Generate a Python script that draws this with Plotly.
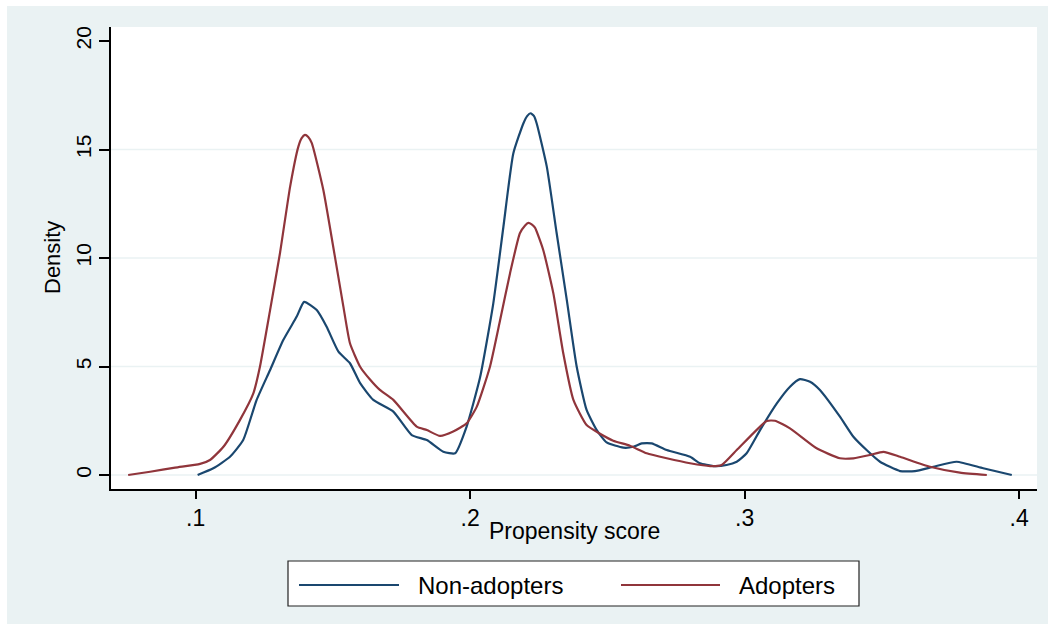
import plotly.graph_objects as go

# ---- data ----
nonadopt_x = [0.1007, 0.1064, 0.1125, 0.1173, 0.1222, 0.1271, 0.1319, 0.1368, 0.1395, 0.1441,
              0.1477, 0.1520, 0.1562, 0.1599, 0.1647, 0.1720, 0.1787, 0.1842, 0.1902, 0.1945,
              0.1987, 0.2036, 0.2084, 0.2121, 0.2157, 0.2194, 0.2208, 0.2220, 0.2232, 0.2242,
              0.2279, 0.2315, 0.2352, 0.2388, 0.2424, 0.2461, 0.2497, 0.2558, 0.2594, 0.2625,
              0.2661, 0.2716, 0.2801, 0.2837, 0.2886, 0.2934, 0.2971, 0.3007, 0.3056, 0.3117,
              0.3165, 0.3201, 0.3238, 0.3274, 0.3347, 0.3396, 0.3444, 0.3493, 0.3566, 0.3620,
              0.3687, 0.3772, 0.3869, 0.3973]
nonadopt_y = [0.00, 0.31, 0.84, 1.61, 3.46, 4.84, 6.22, 7.30, 7.98, 7.60,
              6.83, 5.68, 5.15, 4.23, 3.46, 2.92, 1.84, 1.61, 1.07, 1.00,
              2.23, 4.50, 7.90, 11.44, 14.82, 16.21, 16.55, 16.67, 16.55, 16.21,
              14.21, 11.14, 8.06, 4.99, 3.00, 2.07, 1.50, 1.26, 1.30, 1.46,
              1.46, 1.15, 0.84, 0.54, 0.41, 0.46, 0.61, 1.00, 2.07, 3.30,
              4.07, 4.42, 4.30, 3.92, 2.69, 1.76, 1.15, 0.61, 0.18, 0.18,
              0.38, 0.61, 0.31, 0.00]

adopt_x = [0.0754, 0.0834, 0.0925, 0.1016, 0.1052, 0.1101, 0.1161, 0.1210, 0.1234, 0.1271,
           0.1307, 0.1344, 0.1374, 0.1386, 0.1398, 0.1410, 0.1423, 0.1465, 0.1501, 0.1538,
           0.1562, 0.1599, 0.1635, 0.1671, 0.1720, 0.1805, 0.1842, 0.1890, 0.1938, 0.1987,
           0.2024, 0.2072, 0.2109, 0.2145, 0.2181, 0.2200, 0.2212, 0.2224, 0.2236, 0.2266,
           0.2303, 0.2339, 0.2376, 0.2424, 0.2473, 0.2521, 0.2582, 0.2643, 0.2716, 0.2801,
           0.2874, 0.2916, 0.2971, 0.3031, 0.3080, 0.3110, 0.3165, 0.3262, 0.3347, 0.3396,
           0.3456, 0.3505, 0.3566, 0.3675, 0.3784, 0.3882]
adopt_y = [0.00, 0.15, 0.34, 0.51, 0.69, 1.30, 2.53, 3.76, 4.99, 7.60,
           10.22, 13.29, 15.13, 15.52, 15.67, 15.58, 15.29, 13.13, 10.52, 7.76,
           6.07, 4.99, 4.40, 3.92, 3.46, 2.23, 2.07, 1.80, 2.00, 2.38,
           3.15, 4.99, 7.14, 9.29, 11.14, 11.50, 11.62, 11.55, 11.40, 10.37,
           8.37, 5.61, 3.46, 2.30, 1.90, 1.58, 1.35, 1.00, 0.77, 0.54,
           0.41, 0.46, 1.15, 1.92, 2.49, 2.50, 2.15, 1.23, 0.77, 0.77,
           0.92, 1.07, 0.84, 0.38, 0.11, 0.00]

series_names = ["Non-adopters", "Adopters"]
x_tickvals = [0.1, 0.2, 0.3, 0.4]
x_ticktext = [".1", ".2", ".3", ".4"]
y_tickvals = [0, 5, 10, 15, 20]
grid_vals = [0, 5, 10, 15]

# ---- styles ----
NAVY = "#1a476f"
MAROON = "#90353b"
BG = "#eaf2f3"
FONT = "Liberation Sans, Arial, sans-serif"

W, H = 1048, 624
L, R, T, B = 111, 11, 27, 135
PW, PH = W - L - R, H - T - B


def px_x(p):
    return (p - L) / PW


def px_y(p):
    return (H - B - p) / PH


fig = go.Figure()
fig.add_trace(go.Scatter(x=nonadopt_x, y=nonadopt_y, mode="lines", name=series_names[0],
                         line=dict(color=NAVY, width=2.2, shape="spline", smoothing=0.5),
                         showlegend=False))
fig.add_trace(go.Scatter(x=adopt_x, y=adopt_y, mode="lines", name=series_names[1],
                         line=dict(color=MAROON, width=2.2, shape="spline", smoothing=0.5),
                         showlegend=False))

shapes = []
# white outer strips (top/left)
shapes.append(dict(type="rect", xref="paper", yref="paper", x0=px_x(0), x1=px_x(W),
                   y0=px_y(6), y1=px_y(0), fillcolor="white", line=dict(width=0), layer="below"))
shapes.append(dict(type="rect", xref="paper", yref="paper", x0=px_x(0), x1=px_x(7),
                   y0=px_y(H), y1=px_y(0), fillcolor="white", line=dict(width=0), layer="below"))
# horizontal gridlines
for g in grid_vals:
    shapes.append(dict(type="line", xref="paper", yref="y", x0=0, x1=1, y0=g, y1=g,
                       line=dict(color=BG, width=1.6), layer="below"))

# legend box
leg_x0, leg_x1, leg_y0, leg_y1 = 288, 859, 561, 606
leg_cy = 585
shapes.append(dict(type="rect", xref="paper", yref="paper",
                   x0=px_x(leg_x0), x1=px_x(leg_x1), y0=px_y(leg_y1), y1=px_y(leg_y0),
                   fillcolor="white", line=dict(color="#222222", width=1.2)))
legend_items = [(series_names[0], NAVY, 299, 399, 416), (series_names[1], MAROON, 621, 720, 737)]
annotations = []
for name, col, lx0, lx1, tx in legend_items:
    shapes.append(dict(type="line", xref="paper", yref="paper",
                       x0=px_x(lx0), x1=px_x(lx1), y0=px_y(leg_cy), y1=px_y(leg_cy),
                       line=dict(color=col, width=2)))
    annotations.append(dict(text=name, xref="paper", yref="paper", x=px_x(tx), y=px_y(leg_cy),
                            xanchor="left", yanchor="middle", showarrow=False,
                            font=dict(family=FONT, size=24, color="black")))

# axis titles
annotations.append(dict(text="Propensity score", xref="paper", yref="paper",
                        x=px_x(574), y=px_y(531), xanchor="center", yanchor="middle",
                        showarrow=False, font=dict(family=FONT, size=23, color="black")))
annotations.append(dict(text="Density", xref="paper", yref="paper",
                        x=px_x(52), y=0.5, xanchor="center", yanchor="middle", textangle=-90,
                        showarrow=False, font=dict(family=FONT, size=22, color="black")))

fig.update_layout(
    width=W, height=H,
    margin=dict(l=L, r=R, t=T, b=B, pad=0),
    paper_bgcolor=BG, plot_bgcolor="white",
    font=dict(family=FONT, size=21, color="black"),
    shapes=shapes, annotations=annotations,
    showlegend=False,
)
fig.update_xaxes(range=[0.1 - (195.7 - L) / 2745, 0.1 + (W - R - 195.7) / 2745],
                 tickvals=x_tickvals, ticktext=x_ticktext,
                 showgrid=False, zeroline=False, showline=True, linecolor="black", linewidth=1.5,
                 ticks="outside", ticklen=8, tickwidth=1.5, tickcolor="black",
                 tickfont=dict(family=FONT, size=23, color="black"), fixedrange=True)
fig.update_yaxes(range=[-(H - B - 475) / 21.7, (475 - T) / 21.7],
                 tickvals=y_tickvals, ticktext=[str(v) for v in y_tickvals],
                 showgrid=False, zeroline=False, showline=True, linecolor="black", linewidth=1.5,
                 ticks="outside", ticklen=10, tickwidth=1.5, tickcolor="black", tickangle=-90,
                 tickfont=dict(family=FONT, size=21, color="black"), fixedrange=True)

fig.write_html("out.html")
